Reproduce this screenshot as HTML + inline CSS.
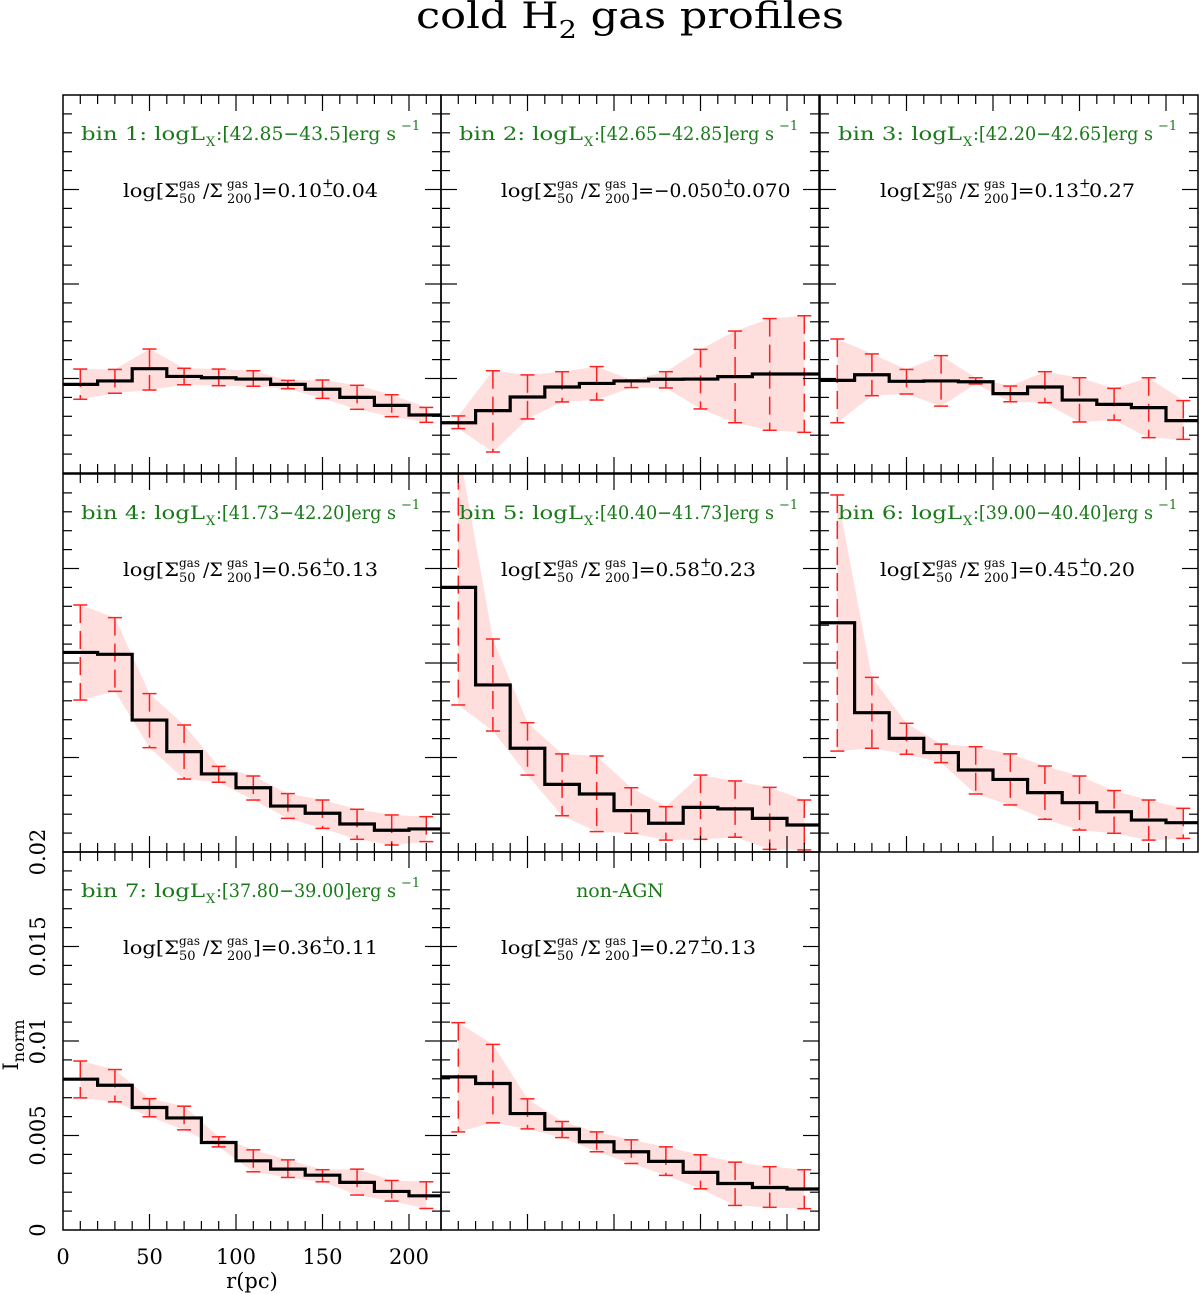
<!DOCTYPE html>
<html><head><meta charset="utf-8"><style>
body{margin:0;background:#fff}
svg{display:block}
text{font-family:"DejaVu Serif","Liberation Serif",serif}
</style></head><body>
<svg id="chart" width="1200" height="1294" viewBox="0 0 1200 1294" xmlns="http://www.w3.org/2000/svg">
<text x="630" y="28" text-anchor="middle" font-size="36" textLength="428" lengthAdjust="spacingAndGlyphs">cold H<tspan font-size="24" dy="10">2</tspan><tspan dy="-10"> gas profiles</tspan></text>
<g id="panels"></g>
</svg>
<script>
const radii=[10,30,50,70,90,110,130,150,170,190,210];
const labels=["bin 1: logL","bin 2: logL","bin 3: logL","bin 4: logL","bin 5: logL","bin 6: logL","bin 7: logL","non-AGN"];
const ranges=["[42.85\u221243.5]","[42.65\u221242.85]","[42.20\u221242.65]","[41.73\u221242.20]","[40.40\u221241.73]","[39.00\u221240.40]","[37.80\u221239.00]",""];
const ratios=["0.10","\u22120.050","0.13","0.56","0.58","0.45","0.36","0.27"];
const ratioErr=["0.04","0.070","0.27","0.13","0.23","0.20","0.11","0.13"];
const vals1=[4.69,4.87,5.52,5.11,5.04,4.97,4.69,4.43,4.00,3.58,3.07];
const hi1=[5.50,5.48,6.56,5.54,5.50,5.41,4.90,4.92,4.64,4.14,3.47];
const lo1=[3.90,4.22,4.39,4.67,4.62,4.59,4.46,3.95,3.37,2.98,2.68];
const vals2=[2.66,3.30,4.02,4.55,4.74,4.87,4.96,4.97,5.10,5.24,5.24];
const hi2=[3.02,5.41,5.19,5.36,5.63,4.92,5.36,6.54,7.51,8.17,8.32];
const lo2=[2.35,1.11,2.86,3.76,3.86,4.52,4.50,3.39,2.66,2.26,2.15];
const vals3=[4.90,5.20,4.85,4.87,4.83,4.20,4.55,3.86,3.63,3.46,2.77];
const hi3=[7.09,6.30,5.48,6.21,5.04,4.60,5.36,5.04,4.48,5.04,3.83];
const lo3=[2.66,4.09,4.18,3.54,4.71,3.77,3.72,2.70,2.80,1.87,1.78];
const vals4=[10.56,10.46,6.98,5.31,4.13,3.40,2.43,2.05,1.48,1.15,1.22];
const hi4=[13.07,12.40,8.38,6.72,4.53,4.02,3.09,2.75,2.26,1.96,1.87];
const lo4=[8.04,8.50,5.52,3.86,3.69,2.75,1.78,1.25,0.67,0.37,0.55];
const vals5=[14.0,8.84,5.49,3.58,3.07,2.19,1.52,2.36,2.28,1.78,1.43];
const hi5=[21.5,11.27,6.84,5.19,5.08,3.40,2.40,4.07,3.76,3.42,2.75];
const lo5=[7.78,6.40,4.07,1.92,1.08,0.99,0.63,0.67,0.78,0.14,0.11];
const vals6=[12.13,7.37,6.01,5.26,4.34,3.84,3.14,2.61,2.13,1.69,1.55];
const hi6=[18.89,9.24,6.81,5.71,5.57,5.19,4.55,4.02,3.25,2.75,2.31];
const lo6=[5.34,5.49,5.17,4.73,3.07,2.49,1.73,1.16,0.99,0.63,0.72];
const vals7=[7.98,7.66,6.48,5.93,4.63,3.66,3.22,2.90,2.52,2.04,1.81];
const hi7=[8.94,8.49,6.95,6.55,4.93,4.24,3.71,3.19,3.22,2.62,2.55];
const lo7=[6.99,6.78,5.99,5.30,4.40,3.08,2.78,2.55,1.85,1.53,1.14];
const vals8=[8.10,7.75,6.16,5.33,4.67,4.14,3.63,3.05,2.46,2.25,2.17];
const hi8=[10.97,9.82,6.94,5.74,5.19,4.77,4.40,3.98,3.59,3.35,3.19];
const lo8=[5.19,5.67,5.35,4.89,4.14,3.52,2.89,2.18,1.30,1.20,1.13];
const xTicks=[0,50,100,150,200];
const yTicks=["0","0.005","0.01","0.015","0.02"];

const NS="http://www.w3.org/2000/svg";
const W=378,H=378,XMAX=218.5,YMAX=20;
const cols=[63,441,820],bottoms=[473,852,1230];
const pos=[[0,0],[1,0],[2,0],[0,1],[1,1],[2,1],[0,2],[1,2]];
const allV=[vals1,vals2,vals3,vals4,vals5,vals6,vals7,vals8];
const allH=[hi1,hi2,hi3,hi4,hi5,hi6,hi7,hi8];
const allL=[lo1,lo2,lo3,lo4,lo5,lo6,lo7,lo8];
const root=document.getElementById('panels');
const defs=document.createElementNS(NS,'defs');root.appendChild(defs);
function mk(tag,attrs,parent){const e=document.createElementNS(NS,tag);for(const k in attrs)e.setAttribute(k,attrs[k]);parent.appendChild(e);return e;}
function txt(x,y,s,fs,parent,extra){const e=mk('text',Object.assign({x:x,y:y,'font-size':fs},extra||{}),parent);e.textContent=s;return e;}

pos.forEach((p,i)=>{
  const x0=cols[p[0]],yb=bottoms[p[1]];
  const sx=r=>x0+r/XMAX*W, sy=v=>yb-v/YMAX*H;
  const g=mk('g',{},root);
  
  
  const cp=mk('clipPath',{id:'cp'+i},defs);
  mk('rect',{x:x0,y:yb-H,width:W,height:H},cp);
  const inner=mk('g',{'clip-path':'url(#cp'+i+')'},g);
  let pts=radii.map((r,k)=>sx(r)+','+sy(allH[i][k])).concat(radii.slice().reverse().map((r,k)=>sx(r)+','+sy(allL[i][radii.length-1-k])));
  const band=mk('polygon',{points:pts.join(' '),fill:'#ffdede',stroke:'none'},inner);
  
  
  radii.forEach((r,k)=>{
    const eb=mk('g',{stroke:'#ff2020','stroke-width':1.5},inner);
    
    
    const x=sx(r);
    mk('line',{x1:x,x2:x,y1:sy(allH[i][k]),y2:sy(allL[i][k]),'stroke-dasharray':'18,8'},eb);
    mk('line',{x1:x-7,x2:x+7,y1:sy(allH[i][k]),y2:sy(allH[i][k])},eb);
    mk('line',{x1:x-7,x2:x+7,y1:sy(allL[i][k]),y2:sy(allL[i][k])},eb);
  });
  let d='';
  allV[i].forEach((v,k)=>{
    const a=sx(Math.max(0,radii[k]-10)),b=(k==radii.length-1)?x0+W:sx(radii[k]+10);
    d+=(k==0?'M':'L')+a+','+sy(v)+'L'+b+','+sy(v);
  });
  const ln=mk('path',{d:d,fill:'none',stroke:'#000','stroke-width':3.2},inner);
  
  
  mk('rect',{x:x0,y:yb-H,width:W,height:H,fill:'none',stroke:'#000','stroke-width':1.5},g);
  const tk=mk('g',{stroke:'#000','stroke-width':1.2},g);
  
  
  for(let r=10;r<XMAX;r+=10){const x=sx(r),L=(r%50==0)?16:9;
    mk('line',{x1:x,x2:x,y1:yb,y2:yb-L},tk);mk('line',{x1:x,x2:x,y1:yb-H,y2:yb-H+L},tk);}
  for(let v=1;v<YMAX;v++){const y=sy(v),L=(v%5==0)?16:9;
    mk('line',{x1:x0,x2:x0+L,y1:y,y2:y},tk);mk('line',{x1:x0+W,x2:x0+W-L,y1:y,y2:y},tk);}
  // bin label
  const lg=mk('g',{fill:'#1a7a1a'},g);
  
  
  const ly=yb-H+45;
  if(ranges[i]){
    const sx0=x0+18;
    txt(sx0,ly,labels[i],19,lg,{textLength:124,lengthAdjust:'spacingAndGlyphs'});
    txt(sx0+125,ly+6,'X',13,lg);
    txt(sx0+135,ly,':'+ranges[i]+'erg s',19,lg,{textLength:180,lengthAdjust:'spacingAndGlyphs'});
    txt(sx0+320,ly-10,'\u22121',13,lg);
  } else txt(x0+W/2-10,ly,labels[i],19,lg,{'text-anchor':'middle'});
  // ratio expression
  const eg=mk('g',{fill:'#000'},g);
  
  
  const ey=yb-H+102; let ex=x0+60;
  txt(ex,ey,'log[\u03A3',19,eg,{textLength:56,lengthAdjust:'spacingAndGlyphs'});
  txt(ex+56,ey-9,'gas',12,eg); txt(ex+56,ey+6,'50',13,eg);
  txt(ex+80,ey,'/\u03A3',19,eg);
  txt(ex+104,ey-9,'gas',12,eg); txt(ex+104,ey+6,'200',13,eg);
  const rs=']='+ratios[i];
  const rw=rs.length*11.5;
  txt(ex+130,ey,rs,19,eg,{textLength:rw,lengthAdjust:'spacingAndGlyphs'});
  txt(ex+130+rw,ey-9,'+',14,eg); txt(ex+130+rw,ey+3,'\u2212',14,eg);
  txt(ex+140+rw,ey,ratioErr[i],19,eg,{textLength:ratioErr[i].length*11.5,lengthAdjust:'spacingAndGlyphs'});
});
const ax=mk('g',{'font-size':21},root);


xTicks.forEach(t=>{const e=mk('text',{x:63+t/XMAX*W,y:1264,'text-anchor':'middle'},ax);e.textContent=t;
  });
yTicks.forEach((t,k)=>{const y=1230-k*5/YMAX*H;const e=mk('text',{x:45,y:y,'text-anchor':'middle',transform:'rotate(-90 45 '+y+')'},ax);e.textContent=t;
  });
const xt=mk('text',{x:252,y:1288,'text-anchor':'middle'},ax);xt.textContent='r(pc)';

const yt=mk('text',{x:18,y:1045,'text-anchor':'middle',transform:'rotate(-90 18 1045)'},ax);
yt.innerHTML='I<tspan font-size="16" dy="6">norm</tspan>';

</script>
</body></html>
